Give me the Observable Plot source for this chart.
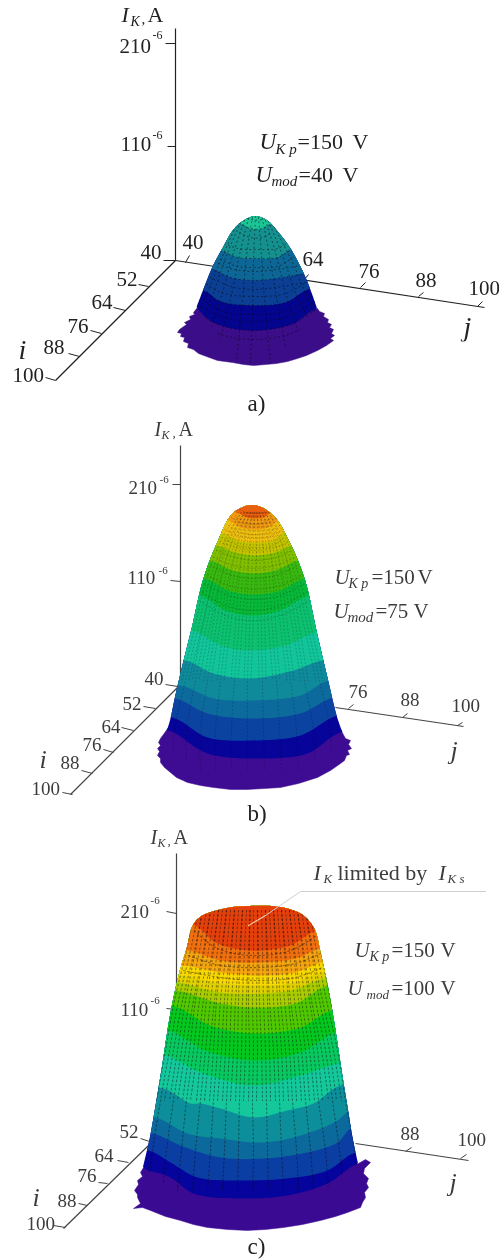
<!DOCTYPE html>
<html><head><meta charset="utf-8">
<style>html,body{margin:0;padding:0;background:#fff}svg{display:block}</style>
<script src="https://cdn.jsdelivr.net/npm/d3@7"></script>
<script src="https://cdn.jsdelivr.net/npm/@observablehq/plot@0.6"></script>
</head><body><div id="c"></div>
<script>
// Panel a) surface outline
const aLeft=[[255,216],[241.7,221.7],[231.7,231.7],[223.3,246.7],[213.3,265],[205,285],[196.7,307]];
const aRight=[[255,216],[266.7,220],[278,231.7],[288.3,245],[298,261.7],[306.7,280],[317,308]];
const aSkirt=[[197,307],[193,312],[194,314],[189,316],[190,319],[184,322],[186,324],[179,329],[177,332],[181,333],[180,336],[184,337],[183,341],[188,343],[187,347],[193,349],[198,353],[206,356],[217,360],[232,362],[243,364],[253,365],[265,364],[276,363],[287,361],[297,358],[306,355],[317,350],[326,345],[333,340],[330,338],[334,335],[331,333],[333,329],[329,327],[331,324],[327,322],[328,319],[323,316],[324,313],[319,311],[317,308]];
const aColors=["#3b0d88","#04058f","#0a3f94","#0d6796","#14908f","#1cc596"];
const aEdges=[
 [[195,310],[213,322],[232,328],[253,330],[275,328],[293,323],[317,308]],
 [[203,290],[220,301],[253,305],[285,302],[310,288]],
 [[210,268],[230,277],[253,280],[283,277],[305,273]],
 [[220,250],[237,257],[255,258],[277,257],[292,248]],
 [[239,223],[250,228],[262,228],[271,223]]];
const aMeridians=[
 [[235,226],[218,265],[201,305],[185,335]],
 [[240,222],[226,255],[212,295],[198,330],[190,348]],
 [[244,220],[233,252],[222,292],[210,330],[202,354]],
 [[248,218],[240,250],[232,290],[222,330],[213,358]],
 [[252,217],[246,255],[242,300],[236,361]],
 [[255,216],[253,260],[252,305],[250,362]],
 [[258,217],[261,255],[264,300],[270,362]],
 [[262,218],[268,250],[275,290],[282,330],[288,360]],
 [[265,220],[275,252],[285,292],[297,330],[302,355]],
 [[268,221],[282,255],[296,295],[312,330],[312,352]],
 [[274,227],[292,262],[308,300],[325,335]]];

// Panel b)
const bLeft=[[253,505],[233,513],[217,543],[203,580],[192,627],[182,667],[175,697],[168,727],[160,742]];
const bRight=[[253,505],[273,515],[290,543],[305,580],[317,633],[328,680],[338,720],[345,738]];
const bSkirt=[[168,727],[160,738],[158,742],[160,745],[157,748],[159,751],[157,755],[160,758],[160,762],[164,767],[170,772],[176,777],[187,782],[200,785],[213,787],[230,789],[247,789],[264,788],[280,787],[298,783],[317,777],[330,770],[340,763],[344,760],[346,755],[349,754],[347,750],[351,748],[348,744],[350,740],[345,738],[339,727]];
const bColors=["#3d0c92","#07049a","#0b43a0","#0c6a9c","#0f8a9b","#12c49a","#0cc070","#08b838","#38b810","#80c000","#c4c400","#f0c010","#f09a14","#e8600f"];
const bEdges=[
 [[168,730],[207,753],[257,758],[307,753],[340,732]],
 [[172,717],[207,737],[250,740],[300,735],[337,715]],
 [[175,698],[207,713],[250,718],[300,713],[333,697]],
 [[180,685],[213,698],[250,700],[300,695],[328,680]],
 [[185,660],[213,673],[250,678],[293,670],[322,660]],
 [[192,630],[220,645],[250,650],[285,645],[316,632]],
 [[199,595],[225,610],[252,615],[280,610],[309,595]],
 [[204,578],[228,590],[253,594],[280,590],[304,578]],
 [[210,560],[232,570],[253,573],[275,570],[298,560]],
 [[216,545],[235,552],[254,555],[275,552],[291,545]],
 [[221,532],[238,540],[254,542],[272,540],[284,532]],
 [[228,520],[240,527],[254,529],[268,527],[279,520]],
 [[236,512],[246,517],[254,518],[263,517],[271,512]]];
const bLevels=[512,540,580,630,680,730,770];
const bMeridianX=[
 [241,224,209,197,185,174,172],[244,229,216,205,195,186,186],[247,235,224,215,207,200,200],
 [250,241,233,226,220,215,215],[252,247,242,238,234,231,231],[254,253,251,249,247,247,247],
 [256,259,260,261,262,263,264],[259,265,269,272,276,279,281],[262,271,278,284,290,296,298],
 [265,277,287,296,304,313,315],[268,283,296,308,319,330,330]];

// Panel c)
const cLeft=[[250,906],[227,908],[200,917],[192,927],[187,947],[180,970],[173,1000],[168,1027],[163,1060],[157,1097],[150,1137],[147,1150],[143,1167]];
const cRight=[[250,906],[280,907],[303,915],[315,930],[320,950],[328,987],[335,1027],[342,1073],[348,1110],[353,1140],[358,1163]];
const cSkirt=[[143,1167],[140,1172],[142,1176],[137,1180],[138,1184],[134,1190],[137,1194],[137,1197],[140,1203],[133,1208],[142,1207],[150,1210],[165,1216],[180,1220],[193,1224],[207,1227],[227,1229],[247,1230],[265,1229],[283,1227],[302,1224],[320,1220],[335,1216],[347,1212],[360,1207],[362,1202],[365,1197],[364,1192],[368,1187],[366,1183],[368,1178],[363,1173],[364,1168],[370,1162],[365,1159],[358,1163]];
const cColors=["#3a0a92","#05049c","#0b3ea3","#0b6a9b","#0d8f9b","#14c89c","#08c860","#04c820","#50c800","#a8cc00","#e0d000","#f8d800","#f4a410","#f07010","#e4400c"];
const cEdges=[
 [[147,1170],[170,1177],[193,1193],[237,1198],[287,1195],[327,1183],[358,1163]],
 [[148,1150],[170,1162],[197,1177],[237,1180],[287,1178],[327,1170],[355,1152]],
 [[152,1133],[180,1145],[220,1157],[263,1158],[307,1152],[337,1142],[352,1127]],
 [[155,1117],[187,1133],[220,1138],[263,1142],[307,1133],[337,1120],[350,1110]],
 [[163,1088],[190,1103],[200,1103],[220,1108],[253,1117],[287,1110],[313,1103],[340,1085]],
 [[165,1055],[200,1072],[253,1085],[300,1075],[342,1062]],
 [[168,1030],[205,1050],[253,1060],[300,1052],[336,1032]],
 [[172,1005],[210,1025],[253,1033],[300,1027],[331,1010]],
 [[176,990],[220,1003],[253,1007],[295,1003],[327,985]],
 [[178,982],[220,992],[260,993],[290,990],[324,978]],
 [[180,975],[220,983],[260,985],[290,983],[322,972]],
 [[183,965],[220,972],[260,975],[295,972],[322,962]],
 [[188,950],[220,960],[260,962],[295,958],[320,948]],
 [[194,925],[215,942],[250,950],[290,945],[316,930]]];
const cLevels=[910,950,1000,1050,1100,1150,1190];
const cLevelX=[
 [198,206,214,222,230,238,246,253,261,269,277,285,293,301,309],
 [190,199,208,217,226,235,244,253,262,271,280,289,298,307,316],
 [178,189,199,210,220,231,242,252,263,273,284,294,305,315,326],
 [169,181,193,205,217,229,241,253,265,277,289,301,313,325,337],
 [160,173,186,200,213,226,239,252,266,279,292,305,318,332,345],
 [152,166,181,195,210,224,238,253,267,281,296,310,325,339,354],
 [147,162,177,192,207,222,237,252,268,283,298,313,328,343,358]];

// Axes and ticks: x1,y1,x2,y2
const aAxes=[[175,28,175,260],[175,260,55,380],[175,260,484,307]];
const aTicks=[[165,43,175,43],[167,146,175,146],[163,260,175,260],[138,284,148,286],[113,307,125,310],[90,330,101,333],[68,353,79,356],[45,377,55,380],[185,262,189,255],[304,279,308,274],[360,287,365,282],[418,296,423,292],[477,306,482,301]];
const bAxes=[[180,445,180,690],[178,686,70,794],[335,707,463,726]];
const bTicks=[[172,484,180,484],[170,580,180,581],[165,684,177,686],[143,706,155,708],[121,727,133,730],[103,749,113,752],[81,770,92,773],[62,792,72,794],[348,708,353,704],[402,717,407,713],[457,725,462,722]];
const cAxes=[[176,853,176,1000],[148,1145,63,1228],[355,1143,468,1160]];
const cTicks=[[166,911,176,913],[166,1008,175,1009],[140,1138,149,1141],[117,1160,128,1162],[98,1182,107,1183],[78,1203,87,1205],[53,1225,65,1227],[405,1151,411,1147],[460,1158,466,1154]];

// Text: string, x, baseline y, size, colour
const dark="#222", mid="#3c3c3c";
const romanLabels=[
 ["A",147,21,22,dark],[",",141,23,15,dark],["210",119,52,21,dark],["-6",152,38,12,dark],["110",120,150,21,dark],["-6",152,138,12,dark],
 ["=150",297,148,22,dark],["V",352,148,22,dark],["=40",298,181,22,dark],["V",342,181,22,dark],
 ["40",140,258,21,dark],["52",116,285,21,dark],["64",91,308,21,dark],["76",67,332,21,dark],["88",43,353,21,dark],["100",12,381,21,dark],
 ["40",182,248,21,dark],["64",302,265,21,dark],["76",358,277,21,dark],["88",415,286,21,dark],["100",468,294,21,dark],["a)",247,410,23,dark],
 ["A",178,435,20,mid],[",",172,436,13,mid],["210",128,493,19,mid],["-6",159,482,11,mid],["110",127,583,19,mid],["-6",158,573,11,mid],
 ["=150",371,583,21,mid],["V",417,583,21,mid],["=75",375,617,21,mid],["V",413,617,21,mid],
 ["40",144,684,19,mid],["52",122,709,19,mid],["64",101,732,19,mid],["76",82,750,19,mid],["88",60,768,19,mid],["100",31,794,19,mid],
 ["76",348,697,19,mid],["88",400,705,19,mid],["100",451,711,19,mid],["b)",247,820,23,dark],
 ["A",173,843,20,mid],[",",167,844,13,mid],["210",120,917,19,mid],["-6",150,903,11,mid],["110",120,1015,19,mid],["-6",150,1003,11,mid],
 ["limited by",337,879,22,mid],["=150",391,956,21,mid],["V",440,956,21,mid],["=100",391,994,21,mid],["V",440,994,21,mid],
 ["52",119,1137,19,mid],["64",94,1161,19,mid],["76",77,1181,19,mid],["88",57,1206,19,mid],["100",26,1229,19,mid],
 ["88",400,1139,19,mid],["100",457,1145,19,mid],["c)",247,1253,23,dark]
];
const italicLabels=[
 ["I",121,21,22,dark],["K",130,25,14,dark],["U",259,148,23,dark],["K p",275,153,15,dark],["U",255,181,23,dark],["mod",271,185,15,dark],["i",18,358,28,dark],["j",463,335,28,dark],
 ["I",154,435,20,mid],["K",161,438,12,mid],["U",334,583,21,mid],["K p",348,587,14,mid],["U",333,617,21,mid],["mod",347,621,15,mid],["i",39,767,26,mid],["j",450,758,26,mid],
 ["I",150,843,20,mid],["K",157,846,12,mid],["I",313,879,22,mid],["K",323,882,13,mid],["I",438,879,22,mid],["K s",447,882,13,mid],
 ["U",354,956,21,mid],["K p",369,960,14,mid],["U",347,994,21,mid],["mod",366,998,13,mid],["i",32,1205,26,mid],["j",449,1190,26,mid]
];
const leaderGrey=[[265,915],[300,891],[485,891]];
const leaderPale=[[248,925],[265,915]];

const toRows=a=>a.map(([x,y])=>({x,y}));
const SVGNS="http://www.w3.org/2000/svg";
let clipCount=0;
// clip a mark to the smooth outline of one surface
function outlineClip(L,R,bottom){
  const id="outline"+(++clipCount);
  let made=false;
  return function(index,scales,values,dims,ctx,next){
    const g=next(index,scales,values,dims,ctx);
    const wrap=document.createElementNS(SVGNS,"g");
    if(!made){
      made=true;
      const line=d3.line(p=>scales.x(p[0]),p=>scales.y(p[1])).curve(d3.curveCatmullRom);
      const d=line([...[...L].reverse(),...R.slice(1)])+`L${scales.x(bottom[0])},${scales.y(bottom[1])}Z`;
      const cp=document.createElementNS(SVGNS,"clipPath");
      cp.setAttribute("id",id);
      const p=document.createElementNS(SVGNS,"path");
      p.setAttribute("d",d);
      cp.appendChild(p);
      wrap.appendChild(cp);
    }
    wrap.setAttribute("clip-path",`url(#${id})`);
    wrap.appendChild(g);
    return wrap;
  };
}
function bandRegion(edge,top){
  const a=edge[0], b=edge[edge.length-1];
  return toRows([[a[0]-40,a[1]],...edge,[b[0]+40,b[1]],[b[0]+40,top],[a[0]-40,top]]);
}
function dome(L,R,skirt,edges,colors,meridians,opt){
  const marks=[];
  const render=outlineClip(L,R,opt.bottom);
  const filter=opt.soft?{imageFilter:`blur(${opt.soft}px)`}:{};
  marks.push(Plot.line(toRows(skirt),{x:"x",y:"y",fill:colors[0],stroke:colors[0],strokeWidth:0.5,...filter}));
  edges.forEach((e,k)=>{
    marks.push(Plot.line(bandRegion(e,L[0][1]-10),{x:"x",y:"y",curve:"catmull-rom",fill:colors[k+1],stroke:"none",render,...filter}));
  });
  const dots={stroke:"#0a0a0a",strokeWidth:opt.w,strokeOpacity:opt.o,strokeDasharray:opt.dash,fill:"none",curve:"catmull-rom",render};
  meridians.forEach(m=>opt.dxs.forEach(dx=>{
    const pts=dx===0?m:m.filter(p=>p[1]<=opt.meshEnd);
    marks.push(Plot.line(toRows(pts),{x:"x",y:"y",dx,...dots}));
  }));
  edges.forEach((e,k)=>{
    if(k<opt.parallelsFrom) return;
    opt.offsets.forEach(dy=>marks.push(Plot.line(toRows(e),{x:"x",y:"y",dy,...dots})));
  });
  return marks;
}
const links=(a,stroke,strokeWidth)=>Plot.link(a,{x1:d=>d[0],y1:d=>d[1],x2:d=>d[2],y2:d=>d[3],stroke,strokeWidth});
const bMeridians=bMeridianX.map(r=>r.map((x,k)=>[x,bLevels[k]]));
const cMeridians=cLevelX[0].map((_,n)=>cLevels.map((y,k)=>[cLevelX[k][n],y]));
const textOpts=(style)=>({x:d=>d[1],y:d=>d[2],text:d=>d[0],fontSize:d=>d[3],fill:d=>d[4],fontFamily:"'Liberation Serif',serif",fontStyle:style,textAnchor:"start",lineAnchor:"bottom",imageFilter:"blur(0.35px)"});

const chart=Plot.plot({
  width:499,height:1260,margin:0,
  x:{domain:[0,499],range:[0,499],axis:null},
  y:{domain:[0,1260],range:[0,1260],axis:null},
  style:{background:"#fff"},
  marks:[
    links(aAxes,"#222",1.2),links(aTicks,"#222",1),
    links(bAxes,"#444",1.2),links(bTicks,"#444",1),
    links(cAxes,"#444",1.2),links(cTicks,"#444",1),
    ...dome(aLeft,aRight,aSkirt,aEdges,aColors,aMeridians,{w:1,o:0.55,dash:"1 3.4",offsets:[-9,0,9],dxs:[0],soft:0,bottom:[255,385],parallelsFrom:0,meshEnd:400}),
    ...dome(bLeft,bRight,bSkirt,bEdges,bColors,bMeridians,{w:0.9,o:0.24,dash:"1 2.6",offsets:[-5,5],dxs:[-3.5,0,3.5],soft:0.7,bottom:[253,810],parallelsFrom:6,meshEnd:680}),
    ...dome(cLeft,cRight,cSkirt,cEdges,cColors,cMeridians,{w:1.1,o:0.42,dash:"1.6 2.6",offsets:[5],dxs:[-4,0,4],soft:0.7,bottom:[250,1250],parallelsFrom:11,meshEnd:1100}),
    Plot.line(toRows(leaderGrey),{x:"x",y:"y",stroke:"#cfcfcf",strokeWidth:1}),
    Plot.line(toRows(leaderPale),{x:"x",y:"y",stroke:"#f4c4a8",strokeWidth:1.2}),
    Plot.text(romanLabels,textOpts("normal")),
    Plot.text(italicLabels,textOpts("italic"))
  ]
});
document.getElementById("c").appendChild(chart);
</script></body></html>
